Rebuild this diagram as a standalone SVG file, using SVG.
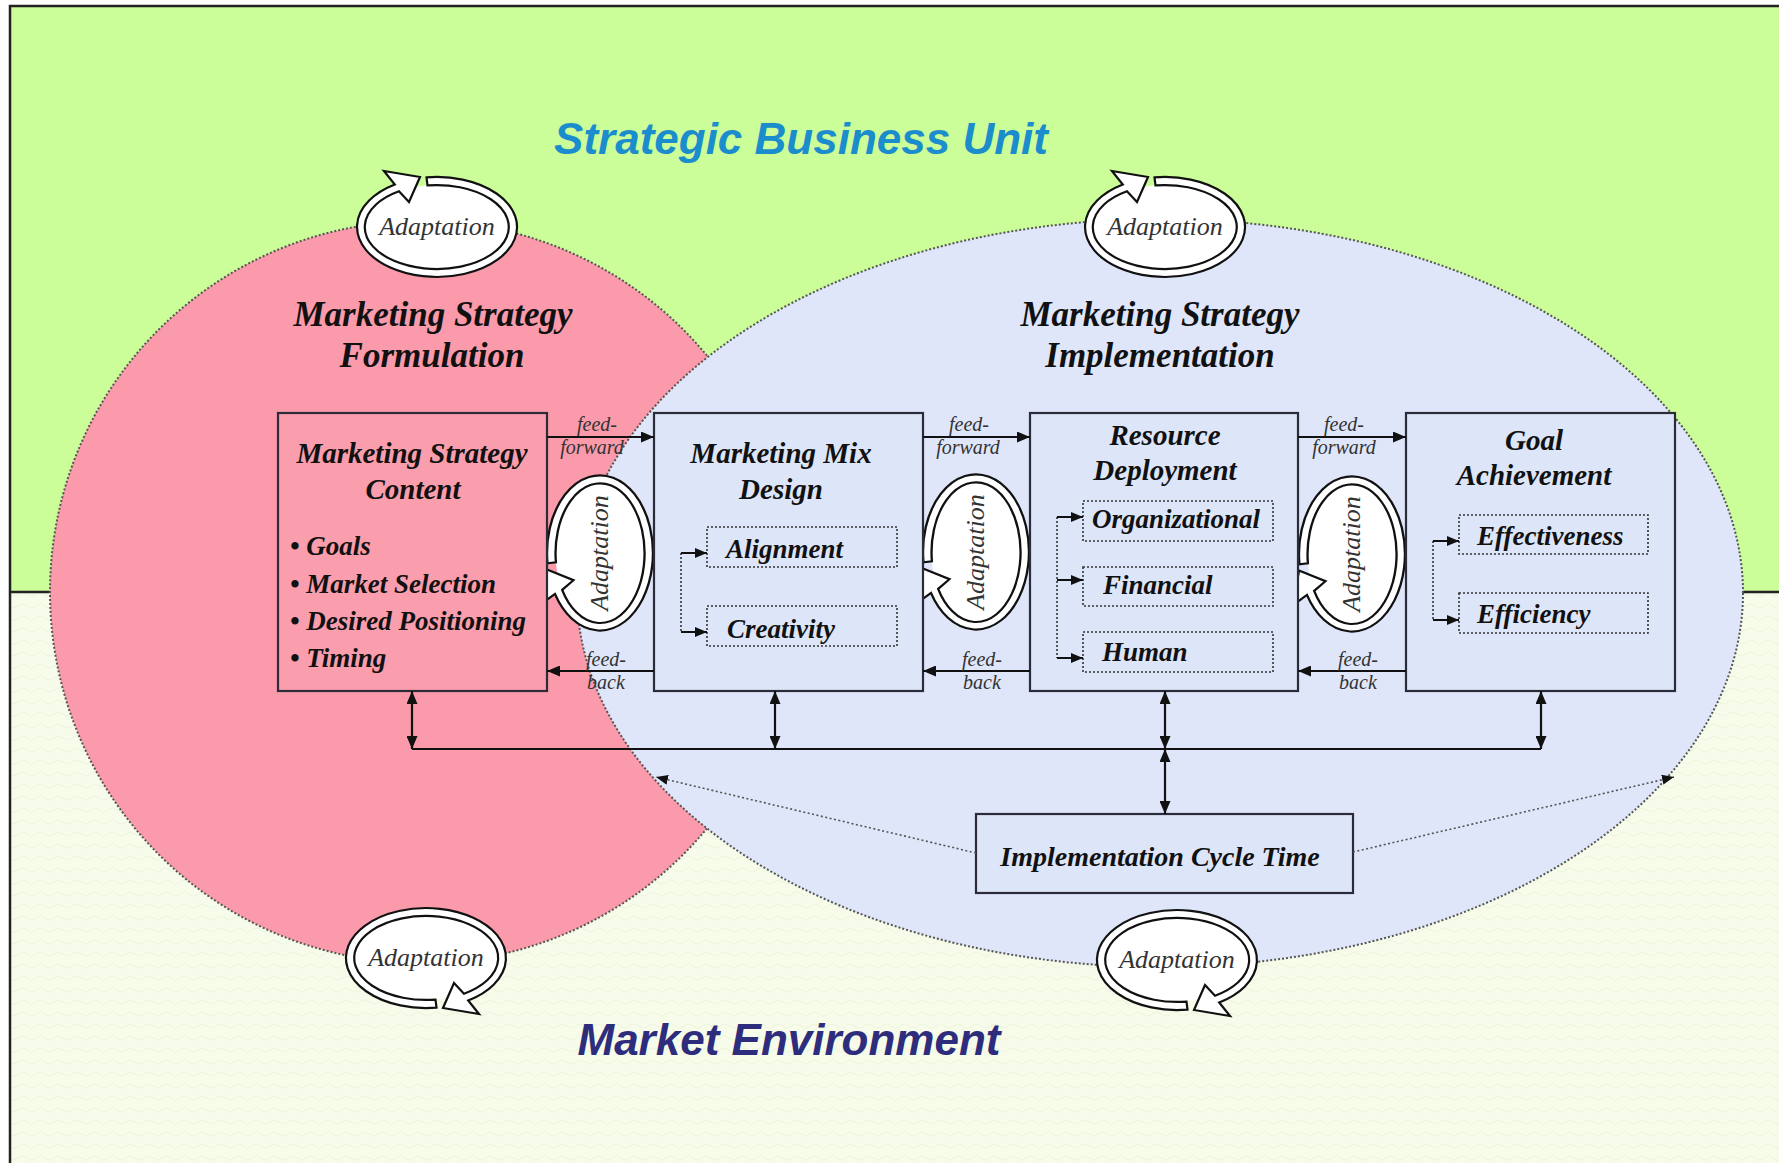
<svg xmlns="http://www.w3.org/2000/svg" xmlns:xlink="http://www.w3.org/1999/xlink" width="1779" height="1163" viewBox="0 0 1779 1163">
  <defs>
    <style>
      .frame { fill: none; stroke: #222; stroke-width: 2.5; }
      .zone { stroke: #555; stroke-width: 2; stroke-dasharray: 2 2; }
      .box { stroke: #2b2b3a; stroke-width: 2.2; }
      .blue { fill: #dde5f8; }
      .pink { fill: #fa9dac; }
      .sub { fill: none; stroke: #333; stroke-width: 1.6; stroke-dasharray: 2 2; }
      .dotv { fill: none; stroke: #333; stroke-width: 1.6; stroke-dasharray: 2 2; }
      .conn { fill: none; stroke: #111; stroke-width: 2.2; }
      .tick { fill: none; stroke: #111; stroke-width: 2; marker-end: url(#ah-s); }
      .dotted { fill: none; stroke: #555; stroke-width: 1.6; stroke-dasharray: 2 2.5; marker-end: url(#ah-d); }
      .big { font-family: "Liberation Sans", Arial, sans-serif; font-weight: bold; font-style: italic; font-size: 44px; }
      .hd { font-family: "Liberation Serif", "Times New Roman", serif; font-weight: bold; font-style: italic; font-size: 35px; fill: #111; text-anchor: middle; }
      .tt { font-family: "Liberation Serif", "Times New Roman", serif; font-weight: bold; font-style: italic; font-size: 29px; fill: #111; text-anchor: middle; }
      .it { font-family: "Liberation Serif", "Times New Roman", serif; font-weight: bold; font-style: italic; font-size: 27px; fill: #111; }
      .fl { font-family: "Liberation Serif", "Times New Roman", serif; font-style: italic; font-size: 20px; fill: #333; text-anchor: middle; }
      .ad { font-family: "Liberation Serif", "Times New Roman", serif; font-style: italic; font-size: 26px; fill: #333; text-anchor: middle; }
    </style>
    <marker id="ah" viewBox="0 0 13 11" refX="13" refY="5.5" markerWidth="13" markerHeight="11" markerUnits="userSpaceOnUse" orient="auto-start-reverse">
      <path d="M0,0 L13,5.5 L0,11 z" fill="#111"/>
    </marker>
    <marker id="ah-s" viewBox="0 0 12 10" refX="12" refY="5" markerWidth="12" markerHeight="10" markerUnits="userSpaceOnUse" orient="auto">
      <path d="M0,0 L12,5 L0,10 z" fill="#111"/>
    </marker>
    <marker id="ah-d" viewBox="0 0 12 10" refX="12" refY="5" markerWidth="12" markerHeight="10" markerUnits="userSpaceOnUse" orient="auto">
      <path d="M0,0 L12,5 L0,10 z" fill="#111"/>
    </marker>
    <pattern id="wave" width="18" height="12" patternUnits="userSpaceOnUse">
      <path d="M0,6 Q4.5,2 9,6 T18,6" fill="none" stroke="#edf5df" stroke-width="1.1"/>
    </pattern>
    <!-- circular block arrow used for every "Adaptation" loop -->
    <g id="ring">
      <ellipse rx="72" ry="42" fill="#fff"/>
      <path d="M-10.5,-49.6 A80,50 0 1 1 -42.2,-42.5 L-53,-56 L-17,-50 L-28,-25 L-38,-35.7 A72,42 0 1 0 -9.5,-41.6 Z" fill="#fff" stroke="#111" stroke-width="2.2" stroke-linejoin="miter"/>
    </g>
  </defs>

  <!-- background: business unit (top) and market environment (bottom) -->
  <g id="background">
    <rect x="10" y="6" width="1769" height="586" fill="#cbfd99"/>
    <rect x="10" y="592" width="1769" height="571" fill="#f6fbea"/>
    <rect x="10" y="592" width="1769" height="571" fill="url(#wave)"/>
    <line x1="10" y1="592" x2="1779" y2="592" stroke="#222" stroke-width="2.5"/>
    <path class="frame" d="M10,1163 V6 H1779"/>
  </g>

  <!-- formulation and implementation zones -->
  <g id="zones">
    <circle class="zone" cx="421" cy="592" r="371" fill="#fa9aaa"/>
    <ellipse class="zone" cx="1160" cy="593" rx="583" ry="374" fill="#dfe6fa"/>
  </g>

  <g id="titles">
    <text class="big" x="801" y="154" text-anchor="middle" fill="#1b8dcc">Strategic Business Unit</text>
    <text class="big" x="789" y="1055" text-anchor="middle" fill="#2e2c7c">Market Environment</text>
    <text class="hd" x="433" y="326">Marketing Strategy</text>
    <text class="hd" x="432" y="367">Formulation</text>
    <text class="hd" x="1160" y="326">Marketing Strategy</text>
    <text class="hd" x="1160" y="367">Implementation</text>
  </g>

  <!-- adaptation loops -->
  <g id="adapt-top-left" transform="translate(437,227)">
    <use href="#ring" xlink:href="#ring"/>
    <text class="ad" x="0" y="8">Adaptation</text>
  </g>
  <g id="adapt-top-right" transform="translate(1165,227)">
    <use href="#ring" xlink:href="#ring"/>
    <text class="ad" x="0" y="8">Adaptation</text>
  </g>
  <g id="adapt-bottom-left" transform="translate(426,958)">
    <use href="#ring" xlink:href="#ring" transform="rotate(180)"/>
    <text class="ad" x="0" y="8">Adaptation</text>
  </g>
  <g id="adapt-bottom-right" transform="translate(1177,960)">
    <use href="#ring" xlink:href="#ring" transform="rotate(180)"/>
    <text class="ad" x="0" y="8">Adaptation</text>
  </g>
  <g id="adapt-1" transform="translate(600,553) rotate(-90)">
    <use href="#ring" xlink:href="#ring" transform="scale(0.97,1.06)"/>
    <text class="ad" x="0" y="8">Adaptation</text>
  </g>
  <g id="adapt-2" transform="translate(976,552) rotate(-90)">
    <use href="#ring" xlink:href="#ring" transform="scale(0.97,1.06)"/>
    <text class="ad" x="0" y="8">Adaptation</text>
  </g>
  <g id="adapt-3" transform="translate(1352,554) rotate(-90)">
    <use href="#ring" xlink:href="#ring" transform="scale(0.97,1.06)"/>
    <text class="ad" x="0" y="8">Adaptation</text>
  </g>

  <!-- Marketing Strategy Content -->
  <g id="box-content">
    <rect class="box pink" x="278" y="413" width="269" height="278"/>
    <text class="tt" x="412" y="463">Marketing Strategy</text>
    <text class="tt" x="413" y="499">Content</text>
    <text class="it" x="290" y="555">• Goals</text>
    <text class="it" x="290" y="593">• Market Selection</text>
    <text class="it" x="290" y="630">• Desired Positioning</text>
    <text class="it" x="290" y="667">• Timing</text>
  </g>

  <!-- Marketing Mix Design -->
  <g id="box-mix">
    <rect class="box blue" x="654" y="413" width="269" height="278"/>
    <text class="tt" x="781" y="463">Marketing Mix</text>
    <text class="tt" x="781" y="499">Design</text>
    <rect class="sub" x="707" y="527" width="190" height="40"/>
    <rect class="sub" x="707" y="606" width="190" height="40"/>
    <path class="dotv" d="M681,553 V632"/>
    <path class="tick" d="M681,553 H707"/>
    <path class="tick" d="M681,632 H707"/>
    <text class="it" x="726" y="558">Alignment</text>
    <text class="it" x="727" y="638">Creativity</text>
  </g>

  <!-- Resource Deployment -->
  <g id="box-resource">
    <rect class="box blue" x="1030" y="413" width="268" height="278"/>
    <text class="tt" x="1165" y="445">Resource</text>
    <text class="tt" x="1165" y="480">Deployment</text>
    <rect class="sub" x="1083" y="501" width="190" height="40"/>
    <rect class="sub" x="1083" y="567" width="190" height="39"/>
    <rect class="sub" x="1083" y="632" width="190" height="40"/>
    <path class="dotv" d="M1057,517 V658"/>
    <path class="tick" d="M1057,517 H1083"/>
    <path class="tick" d="M1057,580 H1083"/>
    <path class="tick" d="M1057,658 H1083"/>
    <text class="it" x="1092" y="528">Organizational</text>
    <text class="it" x="1103" y="594">Financial</text>
    <text class="it" x="1102" y="661">Human</text>
  </g>

  <!-- Goal Achievement -->
  <g id="box-goal">
    <rect class="box blue" x="1406" y="413" width="269" height="278"/>
    <text class="tt" x="1534" y="450">Goal</text>
    <text class="tt" x="1534" y="485">Achievement</text>
    <rect class="sub" x="1459" y="515" width="189" height="39"/>
    <rect class="sub" x="1459" y="593" width="189" height="40"/>
    <path class="dotv" d="M1433,541 V620"/>
    <path class="tick" d="M1433,541 H1459"/>
    <path class="tick" d="M1433,620 H1459"/>
    <text class="it" x="1477" y="545">Effectiveness</text>
    <text class="it" x="1477" y="623">Efficiency</text>
  </g>

  <!-- Implementation Cycle Time -->
  <g id="box-cycle">
    <rect class="box blue" x="976" y="814" width="377" height="79"/>
    <text class="tt" x="1160" y="866" style="font-size:28px">Implementation Cycle Time</text>
  </g>

  <!-- connectors -->
  <g id="connectors">
    <path class="conn" d="M547,437 H654" marker-end="url(#ah)"/>
    <path class="conn" d="M923,437 H1030" marker-end="url(#ah)"/>
    <path class="conn" d="M1298,437 H1406" marker-end="url(#ah)"/>
    <path class="conn" d="M654,671 H547" marker-end="url(#ah)"/>
    <path class="conn" d="M1030,671 H923" marker-end="url(#ah)"/>
    <path class="conn" d="M1406,671 H1298" marker-end="url(#ah)"/>

    <text class="fl" x="597" y="431">feed-</text>
    <text class="fl" x="592" y="454">forward</text>
    <text class="fl" x="969" y="431">feed-</text>
    <text class="fl" x="968" y="454">forward</text>
    <text class="fl" x="1344" y="431">feed-</text>
    <text class="fl" x="1344" y="454">forward</text>
    <text class="fl" x="606" y="666">feed-</text>
    <text class="fl" x="606" y="689">back</text>
    <text class="fl" x="982" y="666">feed-</text>
    <text class="fl" x="982" y="689">back</text>
    <text class="fl" x="1358" y="666">feed-</text>
    <text class="fl" x="1358" y="689">back</text>

    <path class="conn" d="M412,749 H1541"/>
    <path class="conn" d="M412,749 V691" marker-start="url(#ah)" marker-end="url(#ah)"/>
    <path class="conn" d="M775,749 V691" marker-start="url(#ah)" marker-end="url(#ah)"/>
    <path class="conn" d="M1165,749 V691" marker-start="url(#ah)" marker-end="url(#ah)"/>
    <path class="conn" d="M1541,749 V691" marker-start="url(#ah)" marker-end="url(#ah)"/>
    <path class="conn" d="M1165,749 V814" marker-start="url(#ah)" marker-end="url(#ah)"/>

    <path class="dotted" d="M976,853 L656,777"/>
    <path class="dotted" d="M1353,852 L1674,777"/>
  </g>
</svg>
